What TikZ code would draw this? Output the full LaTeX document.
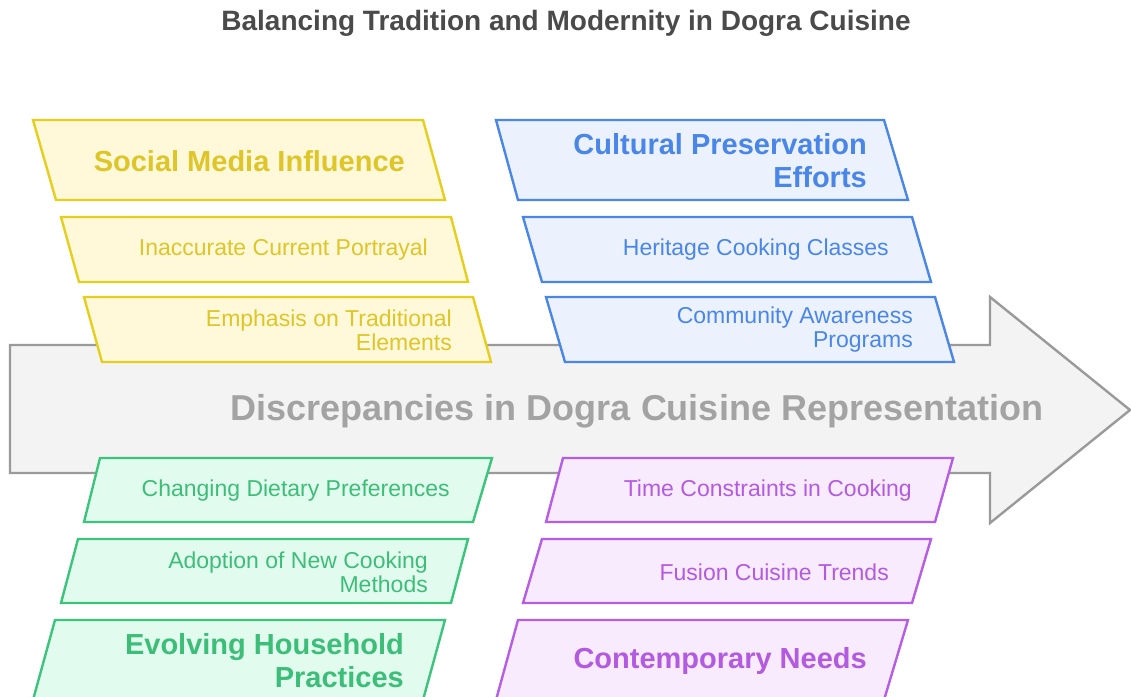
\documentclass[tikz,border=0pt]{standalone}
\usepackage{fontspec}
\setmainfont{Liberation Sans}
\usepackage{xcolor}
\usepackage{tikz}

\definecolor{ylwline}{HTML}{E5CE1E}
\definecolor{ylwfill}{HTML}{FFF8D9}
\definecolor{ylwtext}{HTML}{DEC528}
\definecolor{blueline}{HTML}{4A86E8}
\definecolor{bluefill}{HTML}{EBF2FE}
\definecolor{bluetext}{HTML}{4A86E8}
\definecolor{grnline}{HTML}{3CC47C}
\definecolor{grnfill}{HTML}{E2FBEF}
\definecolor{grntext}{HTML}{3DBE78}
\definecolor{purline}{HTML}{B55DE6}
\definecolor{purfill}{HTML}{F8EBFD}
\definecolor{purtext}{HTML}{B35BE0}
\definecolor{arrline}{HTML}{9A9A9A}
\definecolor{arrfill}{HTML}{F3F3F3}
\definecolor{arrtext}{HTML}{A3A3A3}
\definecolor{titletext}{HTML}{4A4A4A}

\begin{document}
\begin{tikzpicture}[
        x=1pt, y=-1pt,
        slantbox/.style={line width=2.4pt, line join=miter},
        ybox/.style={slantbox, draw=ylwline, fill=ylwfill},
        bbox/.style={slantbox, draw=blueline, fill=bluefill},
        gbox/.style={slantbox, draw=grnline, fill=grnfill},
        pbox/.style={slantbox, draw=purline, fill=purfill},
        head/.style={anchor=east, inner sep=0pt, align=right, font=\fontsize{29}{33}\selectfont\bfseries},
        item/.style={anchor=east, inner sep=0pt, align=right, font=\fontsize{23}{24}\selectfont}
    ]
        \useasboundingbox (0,0) rectangle (1131,696);

        % Title
        \node[text=titletext, font=\fontsize{28}{30}\selectfont\bfseries] (title) at (566,23) {Balancing Tradition and Modernity in Dogra Cuisine};

        % Main arrow
        \draw[line width=2.4pt, draw=arrline, fill=arrfill, line join=miter]
            (10,345) -- (990,345) -- (990,297) -- (1130,410) -- (990,523) -- (990,473) -- (10,473) -- cycle;
        \node[text=arrtext, font=\fontsize{36}{40}\selectfont\bfseries] (main) at (637,411) {Discrepancies in Dogra Cuisine Representation};

        % Social media (top left)
        \draw[ybox] (33,120) -- (423,120) -- (445,200) -- (56,200) -- cycle;
        \node[head, text=ylwtext] (social) at (405,161) {Social Media Influence};
        \draw[ybox] (61,217) -- (451,217) -- (468,282) -- (79,282) -- cycle;
        \node[item, text=ylwtext] (inacc) at (428,250) {Inaccurate Current Portrayal};
        \draw[ybox] (84,297) -- (473,297) -- (491,362) -- (102,362) -- cycle;
        \node[item, text=ylwtext] (emph) at (452,330) {Emphasis on Traditional\\Elements};

        % Cultural preservation (top right)
        \draw[bbox] (496,120) -- (884,120) -- (908,200) -- (518,200) -- cycle;
        \node[head, text=bluetext] (cultural) at (867,161) {Cultural Preservation\\Efforts};
        \draw[bbox] (523,217) -- (912,217) -- (931,282) -- (542,282) -- cycle;
        \node[item, text=bluetext] (heritage) at (889,250) {Heritage Cooking Classes};
        \draw[bbox] (546,297) -- (935,297) -- (954,362) -- (565,362) -- cycle;
        \node[item, text=bluetext] (community) at (913,330) {Community Awareness\\Programs};

        % Household practices (bottom left)
        \draw[gbox] (100,458) -- (492,458) -- (473,522) -- (84,522) -- cycle;
        \node[item, text=grntext] (dietary) at (450,491) {Changing Dietary Preferences};
        \draw[gbox] (78,539) -- (468,539) -- (451,603) -- (61,603) -- cycle;
        \node[item, text=grntext] (methods) at (428,572) {Adoption of New Cooking\\Methods};
        \draw[gbox] (55,620) -- (445,620) -- (423,700) -- (33,700) -- cycle;
        \node[head, text=grntext] (household) at (404,661) {Evolving Household\\Practices};

        % Contemporary needs (bottom right)
        \draw[pbox] (563,458) -- (953,458) -- (935,522) -- (546,522) -- cycle;
        \node[item, text=purtext] (timecon) at (912,491) {Time Constraints in Cooking};
        \draw[pbox] (542,539) -- (931,539) -- (912,603) -- (523,603) -- cycle;
        \node[item, text=purtext] (fusion) at (889,572) {Fusion Cuisine Trends};
        \draw[pbox] (518,620) -- (908,620) -- (884,700) -- (496,700) -- cycle;
        \node[head, text=purtext] (needs) at (867,661) {Contemporary Needs};
    \end{tikzpicture}
\end{document}
